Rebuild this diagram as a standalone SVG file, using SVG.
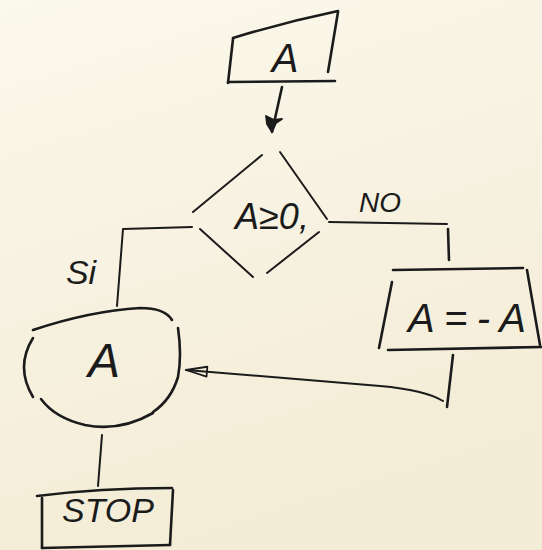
<svg xmlns="http://www.w3.org/2000/svg" width="542" height="550" viewBox="0 0 542 550">
  <defs>
    <linearGradient id="paper" x1="0" y1="0" x2="0.3" y2="1">
      <stop offset="0" stop-color="#fbf8ec"/>
      <stop offset="1" stop-color="#f3ecd6"/>
    </linearGradient>
    <marker id="open-head" viewBox="0 0 24 14" refX="23" refY="7" markerWidth="24" markerHeight="14" markerUnits="userSpaceOnUse" orient="auto">
      <path d="M2,2 L23,7 L2,12 Z" fill="none" stroke="#1b1b1b" stroke-width="1.8" stroke-linejoin="round"/>
    </marker>
    <marker id="solid-head" viewBox="0 0 20 20" refX="8" refY="19" markerWidth="20" markerHeight="20" markerUnits="userSpaceOnUse" orient="0">
      <path d="M2,3 L10,7 L18,6 L12,10 L8,19 L3,11 Z" fill="#1b1b1b" stroke="#1b1b1b" stroke-width="1.8" stroke-linejoin="round"/>
    </marker>
  </defs>
  <style>
    .ink { fill: none; stroke: #1b1b1b; stroke-width: 2.6; stroke-linecap: round; stroke-linejoin: round; }
    .thin { stroke-width: 2; }
    .label { font-family: "Liberation Sans", "DejaVu Sans", sans-serif; font-style: italic; fill: #1b1b1b; text-anchor: middle; dominant-baseline: central; }
  </style>

  <rect width="542" height="550" fill="url(#paper)"/>

  <!-- input: A -->
  <g id="input-a">
    <path class="ink" d="M233,38 Q285,22 338,11"/>
    <path class="ink" d="M338,12 L328,72"/>
    <path class="ink" d="M233,39 L228,83"/>
    <path class="ink" d="M228,82 L335,81"/>
    <text class="label" x="285" y="58" font-size="40">A</text>
  </g>

  <!-- decision: A≥0 -->
  <g id="decision">
    <path class="ink thin" d="M262,155 L193,212"/>
    <path class="ink thin" d="M280,152 L327,219"/>
    <path class="ink thin" d="M200,229 L253,277"/>
    <path class="ink thin" d="M267,273 L319,232"/>
    <text class="label" x="272" y="216" font-size="36">A≥0,</text>
  </g>

  <!-- process: A = -A -->
  <g id="process">
    <path class="ink" d="M393,270 L523,268"/>
    <path class="ink" d="M392,282 L379,348"/>
    <path class="ink" d="M527,270 L540,345"/>
    <path class="ink" d="M388,350 L541,347"/>
    <text class="label" x="467" y="318" font-size="40" textLength="118" lengthAdjust="spacing">A=-A</text>
  </g>

  <!-- display: A -->
  <g id="display">
    <path class="ink" d="M33,330 Q90,311 140,308 Q165,308 172,320"/>
    <path class="ink" d="M178,328 Q182,355 178,377 Q171,400 153,412"/>
    <path class="ink" d="M153,413 Q120,432 85,425 Q55,418 41,399"/>
    <path class="ink" d="M33,338 Q15,367 33,397"/>
    <text class="label" x="104" y="360" font-size="48">A</text>
  </g>

  <!-- terminal: STOP -->
  <g id="stop">
    <path class="ink" d="M37,496 Q100,488 172,488"/>
    <path class="ink" d="M42,498 L42,548"/>
    <path class="ink" d="M173,490 L170,545"/>
    <path class="ink" d="M42,548 L170,545"/>
    <text class="label" x="108" y="510" font-size="34">STOP</text>
  </g>

  <!-- connectors and branch labels -->
  <g id="connectors">
    <path class="ink" d="M282,87 L272,132" marker-end="url(#solid-head)"/>
    <path class="ink thin" d="M192,227 L123,229 L117,306"/>
    <path class="ink thin" d="M329,222 L447,224"/>
    <path class="ink" d="M448,229 L449,260"/>
    <path class="ink" d="M453,355 L447,407"/>
    <path class="ink thin" d="M443,401 Q425,390 380,386 L186,370" marker-end="url(#open-head)"/>
    <path class="ink thin" d="M102,435 L98,486"/>
    <text class="label" x="81" y="272" font-size="34">Si</text>
    <text class="label" x="380" y="202" font-size="28">NO</text>
  </g>
</svg>
